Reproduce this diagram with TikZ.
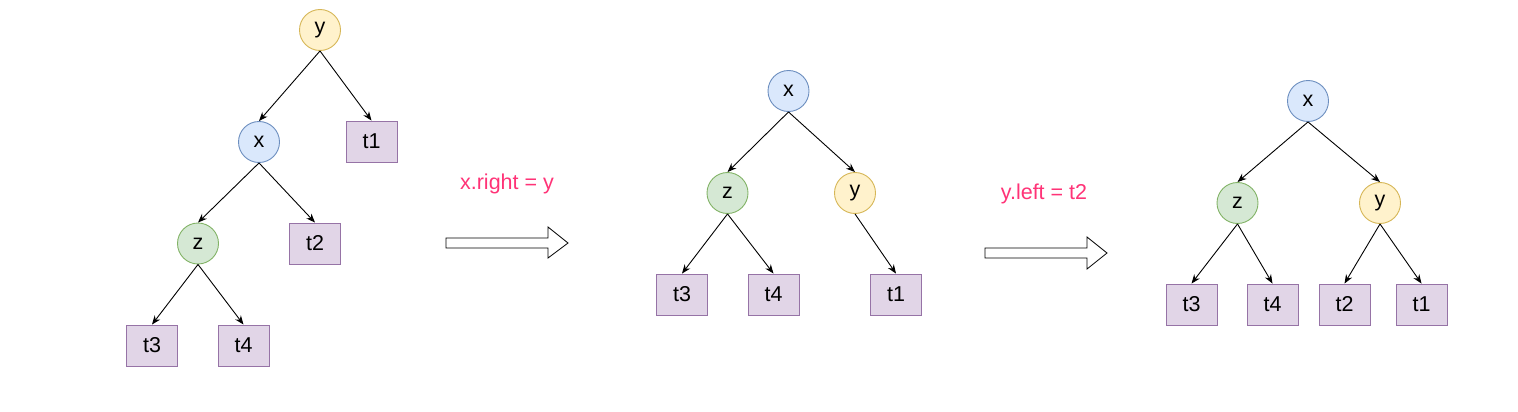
\documentclass[tikz,border=0pt]{standalone}
\usepackage{fontspec}
\setmainfont{Liberation Sans}
\usetikzlibrary{arrows.meta}

\definecolor{gelbF}{HTML}{FFF2CC}
\definecolor{gelbR}{HTML}{D6B656}
\definecolor{blauF}{HTML}{DAE8FC}
\definecolor{blauR}{HTML}{6C8EBF}
\definecolor{gruenF}{HTML}{D5E8D4}
\definecolor{gruenR}{HTML}{82B366}
\definecolor{lilaF}{HTML}{E1D5E7}
\definecolor{lilaR}{HTML}{9673A6}
\definecolor{rosa}{HTML}{FF3377}

\tikzset{
    knoten/.style={circle, minimum size=41pt, inner sep=0pt, line width=0.9pt, font=\fontsize{21.5}{25}\selectfont},
    kx/.style={knoten, draw=blauR, fill=blauF},
    ky/.style={knoten, draw=gelbR, fill=gelbF},
    kz/.style={knoten, draw=gruenR, fill=gruenF},
    blatt/.style={rectangle, draw=lilaR, fill=lilaF, minimum width=51pt, minimum height=41pt, inner sep=0pt, line width=0.9pt, font=\fontsize{21.5}{25}\selectfont},
    schritt/.style={text=rosa, font=\fontsize{21.5}{25}\selectfont},
    >={Stealth[length=9pt, width=7pt]}
}

\begin{document}
\begin{tikzpicture}[x=1pt, y=-1pt, line width=0.9pt]
        \useasboundingbox (0, 0) rectangle (1518, 412);

        % Baum links
        \node[ky] (ya) at (320, 30) {y};
        \node[kx] (xa) at (259, 142) {x};
        \node[blatt] (t1a) at (371.5, 141.5) {t1};
        \node[kz] (za) at (198, 243.5) {z};
        \node[blatt] (t2a) at (315, 243.5) {t2};
        \node[blatt] (t3a) at (152, 345.5) {t3};
        \node[blatt] (t4a) at (243.5, 345.5) {t4};

        \draw[->] (ya.south) -- (xa.north);
        \draw[->] (ya.south) -- (t1a.north);
        \draw[->] (xa.south) -- (za.north);
        \draw[->] (xa.south) -- (t2a.north);
        \draw[->] (za.south) -- (t3a.north);
        \draw[->] (za.south) -- (t4a.north);

        % Schritt 1
        \node[schritt] (s1) at (507, 184) {x.right = y};
        \draw[fill=white, line width=0.8pt] (446, 238) -- (548, 238) -- (548, 227) -- (568, 243) -- (548, 258) -- (548, 248) -- (446, 248) -- cycle;

        % Baum Mitte
        \node[kx] (xb) at (788.5, 91) {x};
        \node[kz] (zb) at (727.5, 193) {z};
        \node[ky] (yb) at (855, 193) {y};
        \node[blatt] (t3b) at (682, 294.5) {t3};
        \node[blatt] (t4b) at (773.5, 294.5) {t4};
        \node[blatt] (t1b) at (896, 294.5) {t1};

        \draw[->] (xb.south) -- (zb.north);
        \draw[->] (xb.south) -- (yb.north);
        \draw[->] (zb.south) -- (t3b.north);
        \draw[->] (zb.south) -- (t4b.north);
        \draw[->] (yb.south) -- (t1b.north);

        % Schritt 2
        \node[schritt] (s2) at (1044, 194) {y.left = t2};
        \draw[fill=white, line width=0.8pt] (985, 248) -- (1087, 248) -- (1087, 237) -- (1107, 253) -- (1087, 269) -- (1087, 258) -- (985, 258) -- cycle;

        % Baum rechts
        \node[kx] (xc) at (1308, 101) {x};
        \node[kz] (zc) at (1237.5, 203) {z};
        \node[ky] (yc) at (1380, 203) {y};
        \node[blatt] (t3c) at (1191.5, 304.5) {t3};
        \node[blatt] (t4c) at (1272.5, 304.5) {t4};
        \node[blatt] (t2c) at (1344.5, 304.5) {t2};
        \node[blatt] (t1c) at (1421.5, 304.5) {t1};

        \draw[->] (xc.south) -- (zc.north);
        \draw[->] (xc.south) -- (yc.north);
        \draw[->] (zc.south) -- (t3c.north);
        \draw[->] (zc.south) -- (t4c.north);
        \draw[->] (yc.south) -- (t2c.north);
        \draw[->] (yc.south) -- (t1c.north);

    \end{tikzpicture}
\end{document}
